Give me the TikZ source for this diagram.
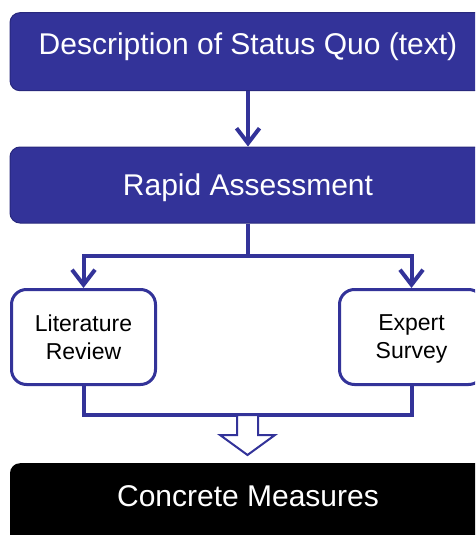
\documentclass[tikz,border=0pt]{standalone}
\usepackage{fontspec}
\setmainfont{Liberation Sans}
\usetikzlibrary{arrows.meta,calc}
\definecolor{flowblue}{RGB}{51,51,153}
\definecolor{flowedge}{RGB}{40,40,125}
\tikzset{
  bigbox/.style={draw=flowedge, line width=1pt, fill=flowblue, text=white,
    rounded corners=10pt, minimum width=476pt, minimum height=78pt,
    font=\fontsize{30}{36}\selectfont, inner sep=0pt},
  smallbox/.style={draw=flowblue, line width=3pt, fill=white, text=black,
    rounded corners=15pt, minimum width=144pt, minimum height=95pt,
    font=\fontsize{23}{28}\selectfont, align=center, inner sep=0pt},
  endbox/.style={fill=black, text=white, rounded corners=10pt,
    minimum width=476pt, minimum height=90pt,
    font=\fontsize{30}{36}\selectfont, inner sep=0pt},
  link/.style={draw=flowblue, line width=4pt},
  linkarrow/.style={link, -{Straight Barb[length=15pt,width=23pt]}},
}
\begin{document}
\begin{tikzpicture}[x=1pt, y=-1pt]
\useasboundingbox (0,0) rectangle (475,535);
\clip (0,0) rectangle (475,535);

% main process boxes
\node[bigbox, text height=21.5pt, text depth=16.8pt] (desc) at (248,51.7)
  {Description of Status Quo (text)};
\node[bigbox, minimum height=76pt, text height=21.5pt, text depth=0pt] (ra) at (248,185)
  {Rapid Assessment};

% the two assessment methods
\node[smallbox] (lit) at (83.5,337) {Literature\\Review};
\node[smallbox] (exp) at (411.5,337) {Expert\\\raisebox{0pt}[\height][0pt]{Survey}};

% result box
\node[endbox, anchor=north, text height=21.5pt, text depth=24pt] (cm) at (248,463)
  {Concrete Measures};

% connectors
\draw[linkarrow] (desc.south) -- (ra.north);
\draw[link] (ra.south) -- ++(0,32) coordinate (split);
\draw[linkarrow] (split) -| (lit.north);
\draw[linkarrow] (split) -| (exp.north);

% merge line from both methods
\draw[link, line join=miter] (lit.south) -- ++(0,29) -| (exp.south);
\coordinate (merge) at ($(lit.south)!0.5!(exp.south) + (0,29)$);

% hollow block arrow towards the result
\draw[draw=flowblue, fill=white, line width=2pt, line join=miter]
  ($(merge)+(-10.5,0)$) -- ($(merge)+(-10.5,20)$) -- ($(merge)+(-27.5,20)$)
  -- ($(merge)+(0,40)$) -- ($(merge)+(27.5,20)$) -- ($(merge)+(10.5,20)$)
  -- ($(merge)+(10.5,0)$) -- cycle;
\end{tikzpicture}
\end{document}
